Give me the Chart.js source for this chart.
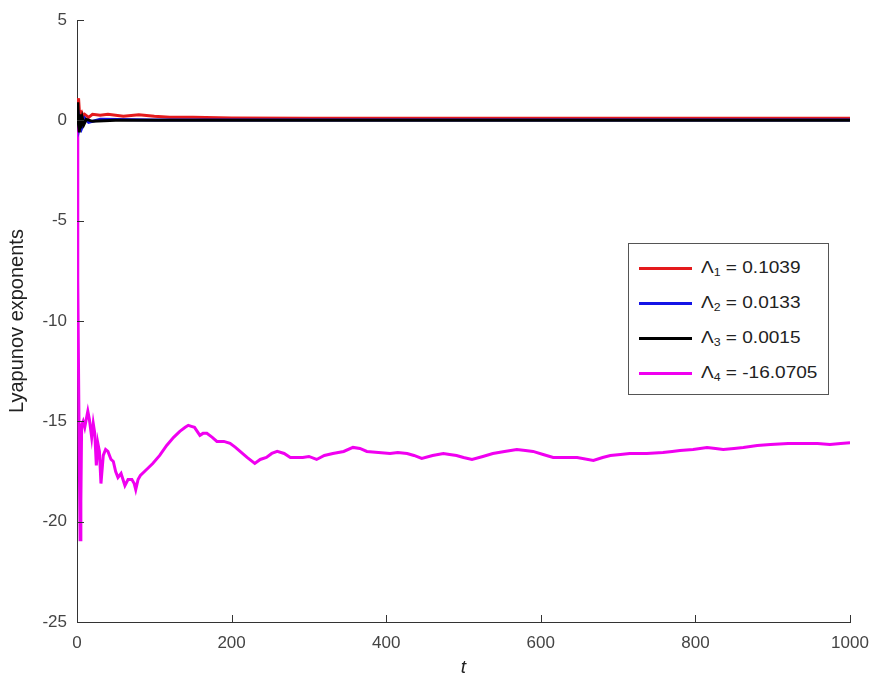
<!DOCTYPE html>
<html>
<head>
<meta charset="utf-8">
<script src="https://cdn.jsdelivr.net/npm/chart.js@4.4.1/dist/chart.umd.min.js"></script>
<style>
  body { margin: 0; background: #fff; }
  #wrap { position: relative; width: 871px; height: 673px; }
  #legendBox {
    position: absolute; left: 628px; top: 243px; width: 199px; height: 150px;
    border: 1px solid #555; background: #fff;
    font-family: "Liberation Sans", Arial, sans-serif; font-size: 17px; color: #222;
  }
  .row { position: absolute; left: 0; height: 20px; line-height: 20px; white-space: nowrap; }
  .swatch { position: absolute; left: 10px; top: 9px; width: 53px; height: 3px; }
  .lbl { position: absolute; left: 72px; top: 0; transform: scaleX(1.12); transform-origin: left center; }
  .lbl sub { font-size: 11px; vertical-align: -3px; line-height: 0; }
</style>
</head>
<body>
<div id="wrap">
  <canvas id="lyapChart"></canvas>
  <div id="legendBox"></div>
</div>
<script>
  // time axis ticks
  const xTicks = [0, 200, 400, 600, 800, 1000];
  const yTicks = [-25, -20, -15, -10, -5, 0, 5];

  // final exponent values (legend)
  const exponents = ['0.1039', '0.0133', '0.0015', '-16.0705'];
  const seriesColors = ['#e41a1c', '#1414e6', '#000000', '#f000f0'];

  // Λ1 (red)
  const tRed = [0, 1, 2, 3, 4, 6, 8, 10, 15, 20, 30, 40, 60, 80, 100, 120, 150, 200, 300, 500, 1000];
  const lam1 = [0, 0.8, 1.1, 0.5, 0.3, 0.4, 0.2, 0.3, 0.15, 0.3, 0.25, 0.3, 0.2, 0.28, 0.2, 0.15, 0.15, 0.12, 0.11, 0.105, 0.1039];

  // Λ2 (blue)
  const tBlue = [0, 1, 2, 3, 4, 6, 8, 10, 15, 30, 100, 300, 1000];
  const lam2 = [0, 0.5, 0.2, -0.3, -0.1, -0.4, -0.2, 0.1, -0.1, 0.05, 0.02, 0.015, 0.0133];

  // Λ3 (black)
  const tBlack = [0, 1, 2, 3, 4, 5, 7, 9, 12, 20, 50, 100, 1000];
  const lam3 = [0, 0.9, -0.2, -0.6, 0.3, -0.4, 0.1, -0.2, 0.05, -0.05, 0.01, 0.003, 0.0015];

  // Λ4 (magenta)
  const tMag = [0, 1, 3, 4, 5, 6, 8, 10, 12, 14, 16, 19, 21, 23, 25, 27, 29, 31, 34, 37, 40, 44, 47, 50, 53, 57, 62, 66, 71, 74, 76, 79, 82, 90, 98,
    107, 116, 125, 133, 140, 144, 148, 152, 159, 163, 168, 175, 181, 190, 198, 205, 211, 220, 230, 237, 245, 252, 259, 268, 276, 284, 292, 300,
    310, 320, 331, 345, 357, 366, 375, 390, 405, 415, 427, 436, 446, 460, 474, 482, 491, 500, 511, 525, 538, 553, 569, 580, 590, 603, 616, 630,
    647, 668, 680, 690, 703, 715, 737, 758, 770, 780, 797, 815, 826, 836, 850, 862, 880, 897, 920, 940, 958, 974, 988, 1000];
  const lam4 = [0.2, -8, -17, -20.9, -19, -15.2, -15.0, -15.3, -14.9, -14.5, -14.9, -15.8, -15.1, -15.6, -17.2, -16.1, -16.5, -18.1, -16.7, -16.4, -16.5, -16.9, -17.0, -17.5, -17.8, -17.6, -18.2, -17.9, -17.9, -18.1, -18.4, -17.9, -17.7, -17.4, -17.1,
    -16.7, -16.2, -15.8, -15.5, -15.3, -15.2, -15.25, -15.3, -15.7, -15.6, -15.6, -15.8, -16.0, -16.0, -16.1, -16.3, -16.5, -16.8, -17.1, -16.9, -16.8, -16.6, -16.5, -16.6, -16.8, -16.8, -16.8, -16.75,
    -16.9, -16.7, -16.6, -16.5, -16.3, -16.35, -16.5, -16.55, -16.6, -16.55, -16.6, -16.7, -16.85, -16.7, -16.6, -16.65, -16.7, -16.8, -16.9, -16.75, -16.6, -16.5, -16.4, -16.45, -16.5, -16.65, -16.8, -16.8,
    -16.8, -16.95, -16.8, -16.7, -16.65, -16.6, -16.6, -16.55, -16.5, -16.45, -16.4, -16.3, -16.35, -16.4, -16.35, -16.3, -16.2, -16.15, -16.1, -16.1, -16.1, -16.15, -16.1, -16.07];

  function pts(ts, vs) {
    return ts.map((t, i) => ({ x: t, y: vs[i] }));
  }

  // legend in html, built from the arrays
  const legendBox = document.getElementById('legendBox');
  exponents.forEach((v, i) => {
    const row = document.createElement('div');
    row.className = 'row';
    row.style.top = (14 + i * 35) + 'px';
    row.innerHTML = '<div class="swatch" style="background:' + seriesColors[i] + '"></div>' +
      '<span class="lbl">\u039B<sub>' + (i + 1) + '</sub> = ' + v + '</span>';
    legendBox.appendChild(row);
  });

  // inward tick marks, like the original plot
  const innerTicks = {
    id: 'innerTicks',
    afterDraw(chart) {
      const c = chart.ctx, xs = chart.scales.x, ys = chart.scales.y, a = chart.chartArea;
      c.save();
      c.strokeStyle = '#333';
      c.lineWidth = 1;
      c.beginPath();
      xTicks.forEach(v => {
        const px = Math.round(xs.getPixelForValue(v)) + 0.5;
        c.moveTo(px, a.bottom); c.lineTo(px, a.bottom - 7);
      });
      yTicks.forEach(v => {
        const py = Math.round(ys.getPixelForValue(v)) + 0.5;
        c.moveTo(a.left, py); c.lineTo(a.left + 7, py);
      });
      c.stroke();
      c.restore();
    }
  };

  const ds = (label, ts, vs, i, order) => ({
    label: label,
    data: pts(ts, vs),
    borderColor: seriesColors[i],
    borderWidth: 3,
    pointRadius: 0,
    tension: 0,
    order: order
  });

  const ctx = document.getElementById('lyapChart').getContext('2d');
  new Chart(ctx, {
    type: 'line',
    data: {
      datasets: [
        ds('\u039B1', tRed, lam1, 0, 2),
        ds('\u039B2', tBlue, lam2, 1, 1),
        ds('\u039B3', tBlack, lam3, 2, 0),
        ds('\u039B4', tMag, lam4, 3, 3)
      ]
    },
    options: {
      responsive: true,
      maintainAspectRatio: false,
      animation: false,
      layout: { padding: { top: 20, right: 21, left: 0, bottom: 0 } },
      plugins: { legend: { display: false }, tooltip: { enabled: false } },
      scales: {
        x: {
          type: 'linear',
          min: 0, max: 1000,
          afterFit: s => { s.height = 51; s.paddingLeft = 0; s.paddingRight = 0; },
          afterBuildTicks: s => { s.ticks = xTicks.map(v => ({ value: v })); },
          grid: { drawOnChartArea: false, drawTicks: false },
          border: { color: '#333', width: 1 },
          ticks: { padding: 11, color: '#444', font: { family: 'Liberation Sans', size: 17 },
            callback: v => String(v) },
          title: { display: true, text: 't', color: '#222', padding: { top: 0, bottom: -6 },
            font: { family: 'Liberation Sans', size: 19, style: 'italic' } }
        },
        y: {
          min: -25, max: 5,
          afterFit: s => { s.width = 77; s.paddingTop = 0; s.paddingBottom = 0; },
          afterBuildTicks: s => { s.ticks = yTicks.map(v => ({ value: v })); },
          grid: { drawOnChartArea: false, drawTicks: false },
          border: { color: '#333', width: 1 },
          ticks: { padding: 10, color: '#444', font: { family: 'Liberation Sans', size: 17 },
            callback: v => String(v) },
          title: { display: true, text: 'Lyapunov exponents', color: '#222', padding: { top: 5, bottom: 0 },
            font: { family: 'Liberation Sans', size: 20 } }
        }
      }
    },
    plugins: [innerTicks]
  });
</script>
</body>
</html>
